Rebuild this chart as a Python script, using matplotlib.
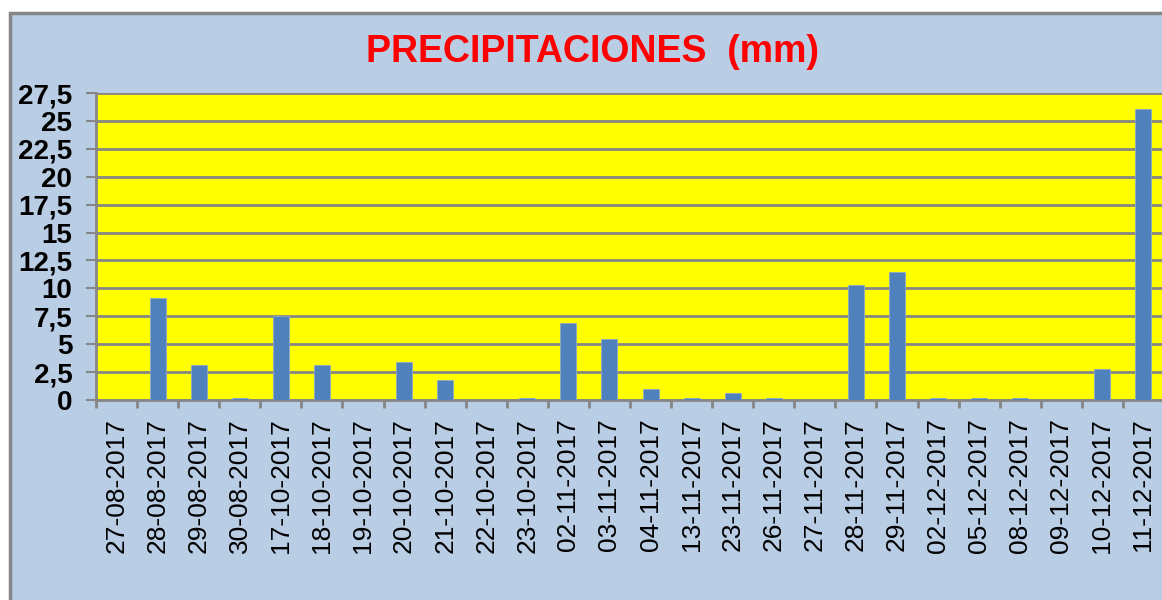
import matplotlib
matplotlib.use("Agg")
import matplotlib.pyplot as plt
from matplotlib.patches import Rectangle
import numpy as np

fechas = ["27-08-2017", "28-08-2017", "29-08-2017", "30-08-2017", "17-10-2017",
          "18-10-2017", "19-10-2017", "20-10-2017", "21-10-2017", "22-10-2017",
          "23-10-2017", "02-11-2017", "03-11-2017", "04-11-2017", "13-11-2017",
          "23-11-2017", "26-11-2017", "27-11-2017", "28-11-2017", "29-11-2017",
          "02-12-2017", "05-12-2017", "08-12-2017", "09-12-2017", "10-12-2017",
          "11-12-2017"]
lluvia = [0, 9.1, 3.1, 0.2, 7.5, 3.1, 0, 3.4, 1.8, 0, 0.2, 6.9, 5.5, 1.0, 0.2,
          0.6, 0.2, 0, 10.3, 11.5, 0.2, 0.2, 0.2, 0, 2.8, 26.1]
yticks = [0, 2.5, 5, 7.5, 10, 12.5, 15, 17.5, 20, 22.5, 25, 27.5]

plt.rcParams['font.family'] = ['Liberation Sans', 'DejaVu Sans']

fig = plt.figure(figsize=(11.62, 6.0), dpi=100)
fig.patch.set_facecolor('white')

# chart area (light blue with gray frame)
fig.patches.append(Rectangle((9.5 / 1162, -0.1), 1.1, (600 - 13) / 600 + 0.1,
                             transform=fig.transFigure, facecolor='#B9CDE5',
                             edgecolor='#868686', linewidth=2.5, zorder=-1))

ax = fig.add_axes([96 / 1162, 200 / 600, 1068 / 1162, 307 / 600])
ax.set_zorder(2)
ax.set_facecolor('#FFFF00')

x = np.arange(len(fechas))
ax.bar(x, lluvia, width=0.39, color='#4F81BD', edgecolor='#8FA8C8',
       linewidth=0.6, zorder=3)

ax.set_xlim(-0.5, len(fechas) - 0.5)
ax.set_ylim(0, 27.5)
ax.set_yticks(yticks)
ax.set_yticklabels([("%g" % v).replace('.', ',') for v in yticks],
                   fontsize=20, fontweight='bold')
ax.yaxis.grid(True, color='#868686', linewidth=2, zorder=1)
ax.set_axisbelow(True)

ax.set_xticks(x)
ax.set_xticklabels(fechas, rotation=90, fontsize=19)
ax.set_xticks(np.arange(len(fechas) + 1) - 0.5, minor=True)
ax.tick_params(axis='x', which='major', length=0, pad=13)
ax.tick_params(axis='x', which='minor', length=6, width=2, color='#868686')
ax.tick_params(axis='y', length=7, width=1.5, color='#868686', pad=10)

for s in ['top', 'right']:
    ax.spines[s].set_visible(False)
for s in ['left', 'bottom']:
    ax.spines[s].set_color('#868686')
    ax.spines[s].set_linewidth(2)

fig.text(593 / 1162, 1 - 52 / 600, "PRECIPITACIONES  (mm)", color='#FF0000',
         fontsize=27, fontweight='bold', ha='center', va='center')

fig.savefig("out.png", dpi=100, facecolor=fig.get_facecolor())
